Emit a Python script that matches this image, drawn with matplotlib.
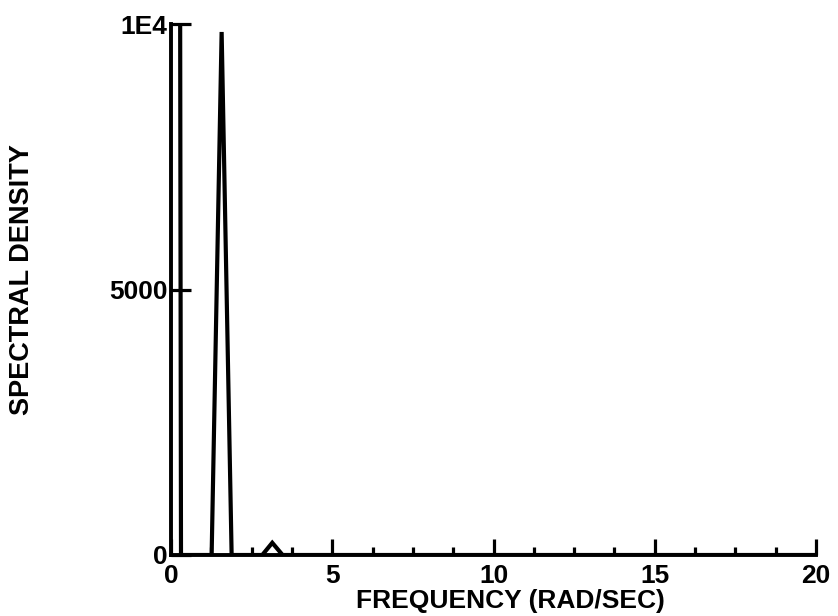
import matplotlib
matplotlib.use("Agg")
import matplotlib.pyplot as plt
from matplotlib.ticker import FixedLocator

# Spectral density estimate (rad/sec vs. density)
freq = [0.0, 0.31, 1.26, 1.57, 1.88, 2.83, 3.14, 3.46, 20.0]
density = [120000.0, 0.0, 0.0, 9850.0, 0.0, 0.0, 230.0, 0.0, 0.0]

x_major = [0, 5, 10, 15, 20]
x_major_labels = ["0", "5", "10", "15", "20"]
x_minor = [1.25, 2.5, 3.75, 6.25, 7.5, 8.75, 11.25, 12.5, 13.75,
           16.25, 17.5, 18.75]
y_ticks = [0, 5000, 10000]
y_tick_labels = ["0", "5000", "1E4"]

FONT = "Liberation Sans"

fig = plt.figure(figsize=(8.38, 6.16), dpi=100)
ax = fig.add_axes([171 / 838, 61 / 616, 645 / 838, 531 / 616])

ax.plot(freq, density, color="black", lw=3.0, solid_joinstyle="miter",
        clip_on=True)

ax.set_xlim(0, 20)
ax.set_ylim(0, 10000)

for side in ("top", "right"):
    ax.spines[side].set_visible(False)
for side in ("left", "bottom"):
    ax.spines[side].set_linewidth(2.8)

ax.xaxis.set_major_locator(FixedLocator(x_major))
ax.xaxis.set_minor_locator(FixedLocator(x_minor))
ax.set_xticklabels(x_major_labels)
ax.set_yticks(y_ticks)
ax.set_yticklabels(y_tick_labels)

ax.tick_params(axis="x", which="major", direction="in", length=11.5,
               width=2.3, pad=6.5)
ax.tick_params(axis="x", which="minor", direction="in", length=5.5,
               width=2.3)
ax.tick_params(axis="y", which="major", direction="in", length=14.5,
               width=2.3, pad=2.5)

for lbl in ax.get_xticklabels() + ax.get_yticklabels():
    lbl.set_fontfamily(FONT)
    lbl.set_fontweight("bold")
    lbl.set_fontsize(19)

ax.set_xlabel("FREQUENCY (RAD/SEC)", fontfamily=FONT, fontweight="bold",
              fontsize=19)
ax.xaxis.set_label_coords(0.5256, -0.0875)
ax.xaxis.label.set_verticalalignment("center")

ax.set_ylabel("SPECTRAL DENSITY", fontfamily=FONT, fontweight="bold",
              fontsize=19.5)
ax.yaxis.set_label_coords(-0.231, 0.518)
ax.yaxis.label.set_verticalalignment("center")

fig.savefig("out.png", dpi=100)
